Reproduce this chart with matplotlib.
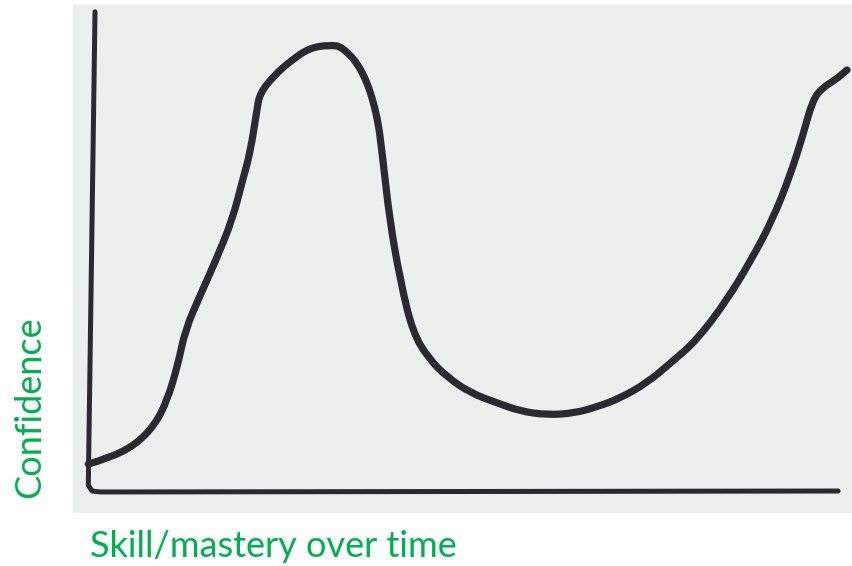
import matplotlib
matplotlib.use("Agg")
import matplotlib.pyplot as plt
from matplotlib.path import Path
from matplotlib.patches import PathPatch

# hand-drawn confidence curve (skill 0-100, confidence 0-100)
skill = [-0.5, 2.4, 5.8, 8.4, 10.1, 11.5, 12.5, 14.5, 16.5, 18.8, 20.2, 21.2, 22.1, 22.5,
         24.5, 26.8, 29.2, 31.9, 33.6, 36.3, 38.2, 39.0, 39.9, 41.3, 43.0, 45.3, 47.6,
         50.7, 54.3, 57.4, 61.0, 64.7, 67.7, 70.8, 74.4, 77.7, 81.1, 85.1, 88.2, 91.2,
         93.6, 95.3, 96.6, 97.9, 99.6, 101.2]
confidence = [5.6, 6.9, 9.6, 13.7, 18.9, 26.2, 33.5, 40.7, 47.6, 56.3, 64.7, 70.3, 79.2, 82.7,
              86.5, 89.6, 92.1, 92.7, 92.3, 87.5, 78.6, 68.8, 56.3, 43.9, 32.8, 27.2, 23.7,
              20.4, 18.3, 16.6, 15.8, 16.2, 17.5, 19.3, 22.5, 26.8, 31.4, 39.7, 47.6, 56.3,
              65.7, 74.0, 81.3, 83.8, 85.4, 87.5]

# drawn axes
axis_x = [0.4, -0.5, 0.0, 1.1, 100.0]
axis_y = [99.6, 1.2, 0.0, -0.2, 0.0]

ink = "#2b2a30"
paper = "#edefee"
green = "#00b050"


def smooth_path(xs, ys):
    # quadratic bezier through midpoints, control points at the read values
    pts = list(zip(xs, ys))
    verts = [pts[0]]
    codes = [Path.MOVETO]
    for i in range(1, len(pts) - 1):
        mid = ((pts[i][0] + pts[i + 1][0]) / 2, (pts[i][1] + pts[i + 1][1]) / 2)
        verts += [pts[i], mid]
        codes += [Path.CURVE3, Path.CURVE3]
    verts.append(pts[-1])
    codes.append(Path.LINETO)
    return Path(verts, codes)


fig = plt.figure(figsize=(8.53, 5.66), dpi=100)
fig.patch.set_facecolor("white")
ax = fig.add_axes([73 / 853, 53 / 566, 780 / 853, 508 / 566])
ax.set_facecolor(paper)
for s in ax.spines.values():
    s.set_visible(False)
ax.set_xticks([])
ax.set_yticks([])

ax.plot(axis_x, axis_y, color=ink, lw=3.6, solid_capstyle="round", solid_joinstyle="round")
ax.add_patch(PathPatch(smooth_path(skill, confidence), facecolor="none", edgecolor=ink,
                       lw=5.2, capstyle="round", joinstyle="round"))

ax.set_xlim(-2.55, 102.0)
ax.set_ylim(-4.57, 101.0)

fig.text(30 / 853, 1 - 407 / 566, "Confidence", rotation=90, color=green,
         fontsize=26, family="Lato", ha="center", va="center")
fig.text(90 / 853, 1 - 557 / 566, "Skill/mastery over time", color=green,
         fontsize=26, family="Lato", ha="left", va="baseline")

fig.savefig("out.png", dpi=100)
